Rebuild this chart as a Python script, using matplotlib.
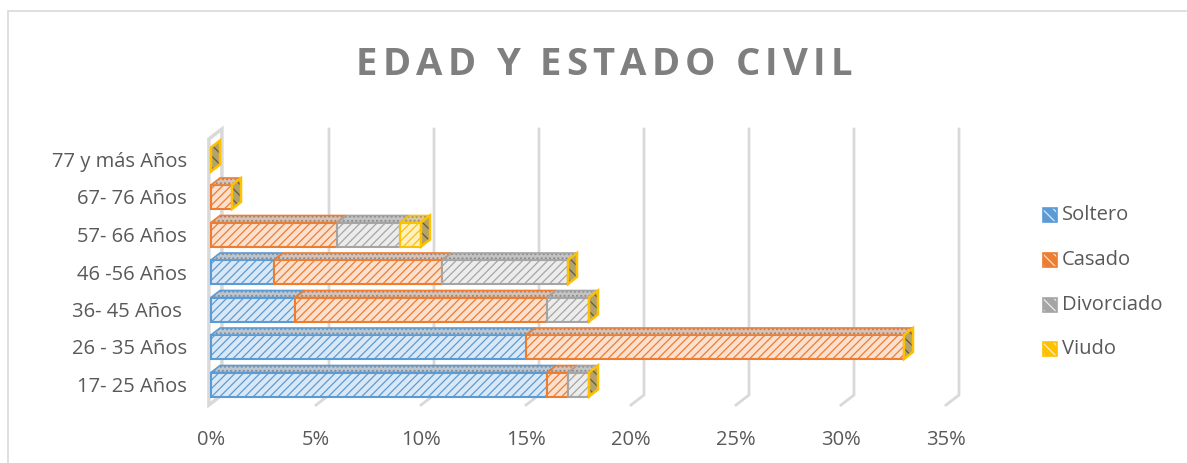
import numpy as np
import matplotlib
matplotlib.use("Agg")
import matplotlib.pyplot as plt
from matplotlib.patches import Polygon, Rectangle

plt.rcParams['font.family'] = ['Open Sans', 'DejaVu Sans']
plt.rcParams['hatch.linewidth'] = 0.9

# data (percent of respondents)
ages = ["17- 25 Años", "26 - 35 Años", "36- 45 Años ", "46 -56 Años",
        "57- 66 Años", "67- 76 Años", "77 y más Años"]
series = ["Soltero", "Casado", "Divorciado", "Viudo"]
soltero = [16, 15, 4, 3, 0, 0, 0]
casado = [1, 18, 12, 8, 6, 1, 0]
divorciado = [1, 0, 2, 6, 3, 0, 0]
viudo = [0, 0, 0, 0, 1, 0, 0]
xticks = [0, 5, 10, 15, 20, 25, 30, 35]

colors = ['#5b9bd5', '#ed7d31', '#a5a5a5', '#ffc000']
tints = ['#dae8f5', '#fbe0cf', '#ececec', '#fff0bf']
tops = ['#b9c6d3', '#d9c2b5', '#c4c4c4', '#d8c891']
text_col = '#595959'
grid_col = '#d9d9d9'

W, H = 1187, 463
fig = plt.figure(figsize=(W / 100, H / 100), dpi=100)

# chart border
fig.add_artist(Rectangle((8 / W, -0.05), 1.2, 1 - 11 / H + 0.05, transform=fig.transFigure,
                         fill=False, ec='#d9d9d9', lw=1.2))

# plot area: 0% at px 211, 21 px per %, rows 37.5 px apart
ax = fig.add_axes([190 / W, (H - 412) / H, (980 - 190) / W, (412 - 120) / H])
ax.set_xlim(-1.0, (980 - 211) / 21)
ax.set_ylim((384.5 - 412) / 37.5, (384.5 - 120) / 37.5)
for s in ax.spines.values():
    s.set_visible(False)

h = 0.64           # bar thickness
bdx, bdy = 9 / 21, 7 / 37.5      # bar depth
gdx, gdy = 13 / 21, 10 / 37.5    # floor depth
y_floor = -0.547
y_top = (384.5 - 129) / 37.5

# wall and gridlines
wall = Polygon([(-0.1, y_floor), (-0.1, y_top - gdy), (-0.1 + gdx, y_top), (-0.1 + gdx, y_floor + gdy)],
               closed=True, fill=False, ec=grid_col, lw=2.5, zorder=1)
ax.add_patch(wall)
for t in xticks[1:]:
    ax.plot([t, t + gdx, t + gdx], [y_floor, y_floor + gdy, y_top], color=grid_col, lw=2, zorder=1)

values = np.array([soltero, casado, divorciado, viudo], dtype=float)
lefts = np.vstack([np.zeros(len(ages)), np.cumsum(values, axis=0)[:-1]])
totals = values.sum(axis=0)
ypos = np.arange(len(ages))

for k in range(len(series)):
    m = values[k] > 0
    ax.barh(ypos[m], values[k][m], left=lefts[k][m], height=h, color=tints[k],
            edgecolor=colors[k], hatch='////', lw=1.5, zorder=3)
    for i in ypos[m]:
        x0, x1 = lefts[k][i], lefts[k][i] + values[k][i]
        yt = i + h / 2
        pts = [(x0, yt), (x1, yt), (x1 + bdx, yt + bdy), (x0 + bdx, yt + bdy)]
        ax.add_patch(Polygon(pts, closed=True, fc=tops[k], ec='#8a8a8a', hatch='....', lw=0, zorder=3))
        ax.add_patch(Polygon(pts, closed=True, fill=False, ec=colors[k], lw=1.2, zorder=4))

# end faces (last series)
for i in ypos:
    x = totals[i]
    pts = [(x, i - h / 2), (x, i + h / 2), (x + bdx, i + h / 2 + bdy), (x + bdx, i - h / 2 + bdy)]
    ax.add_patch(Polygon(pts, closed=True, fc='#b3a26a', ec='#5f5a48', hatch='\\\\\\', lw=0, zorder=3))
    ax.add_patch(Polygon(pts, closed=True, fill=False, ec=colors[3], lw=1.8, zorder=4))

ax.set_xticks(xticks)
ax.set_xticklabels([f"{t}%" for t in xticks])
ax.set_yticks(ypos)
ax.set_yticklabels(ages)
ax.tick_params(axis='both', length=0, labelsize=14.5, colors=text_col)
ax.tick_params(axis='x', pad=13)
ax.tick_params(axis='y', pad=2)

# legend
leg_y = [215, 260, 305, 349]
for k, name in enumerate(series):
    yc = leg_y[k]
    r = (1043 / W, 1 - (yc + 7) / H)
    fig.add_artist(Rectangle(r, 14 / W, 14 / H, transform=fig.transFigure,
                             fc=colors[k], ec=tints[k], hatch='\\\\\\', lw=0))
    fig.add_artist(Rectangle(r, 14 / W, 14 / H, transform=fig.transFigure,
                             fill=False, ec=colors[k], lw=1.2))
    fig.text(1062 / W, 1 - yc / H, name, fontsize=14.5, color=text_col, va='center', ha='left')

# title with letter spacing
title = "EDAD Y ESTADO CIVIL"
renderer = fig.canvas.get_renderer()
tprops = dict(fontsize=27.5, fontweight='bold', color='#7f7f7f', va='baseline', ha='left')
widths = []
for ch in title:
    tt = fig.text(0, 0, ch if ch != ' ' else 'I I', **tprops)
    w = tt.get_window_extent(renderer).width
    if ch == ' ':
        t2 = fig.text(0, 0, 'II', **tprops)
        w = w - t2.get_window_extent(renderer).width
        t2.remove()
    widths.append(w)
    tt.remove()
target = 496
track = (target - sum(widths)) / (len(title) - 1)
x = 604 - target / 2
for ch, w in zip(title, widths):
    if ch != ' ':
        fig.text(x / W, 1 - 75 / H, ch, **tprops)
    x += w + track

fig.savefig("out.png", dpi=100)
